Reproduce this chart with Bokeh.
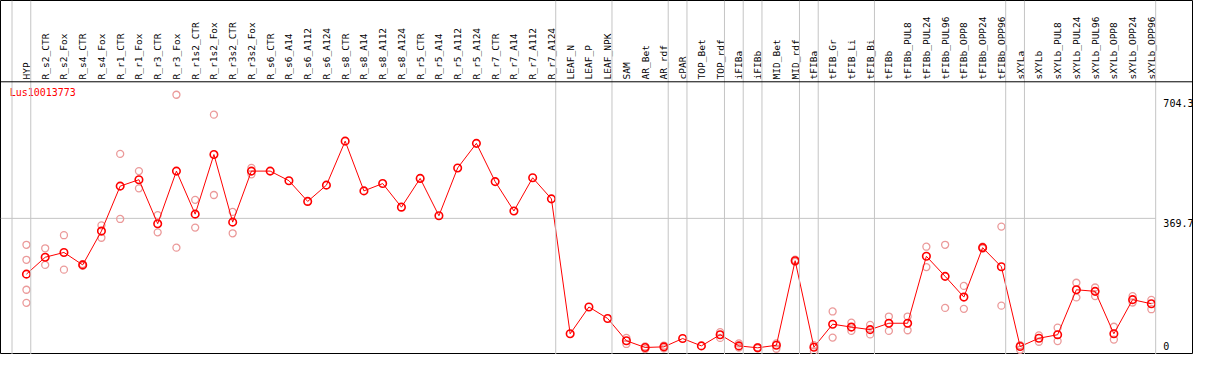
import math
from bokeh.plotting import figure
from bokeh.models import Range1d, Span, ColumnDataSource
from bokeh.core.properties import value
from bokeh.embed import file_html
from bokeh.resources import INLINE

gene_id = "Lus10013773"

categories = [
    "HYP", "R_s2_CTR", "R_s2_Fox", "R_s4_CTR", "R_s4_Fox", "R_r1_CTR", "R_r1_Fox",
    "R_r3_CTR", "R_r3_Fox", "R_r1s2_CTR", "R_r1s2_Fox", "R_r3s2_CTR", "R_r3s2_Fox",
    "R_s6_CTR", "R_s6_A14", "R_s6_A112", "R_s6_A124", "R_s8_CTR", "R_s8_A14",
    "R_s8_A112", "R_s8_A124", "R_r5_CTR", "R_r5_A14", "R_r5_A112", "R_r5_A124",
    "R_r7_CTR", "R_r7_A14", "R_r7_A112", "R_r7_A124", "LEAF_N", "LEAF_P", "LEAF_NPK",
    "SAM", "AR_Bet", "AR_rdf", "cPAR", "TOP_Bet", "TOP_rdf", "iFIBa", "iFIBb",
    "MID_Bet", "MID_rdf", "tFIBa", "tFIB_Gr", "tFIB_Li", "tFIB_Bi", "tFIBb",
    "tFIBb_PUL8", "tFIBb_PUL24", "tFIBb_PUL96", "tFIBb_OPP8", "tFIBb_OPP24",
    "tFIBb_OPP96", "sXYLa", "sXYLb", "sXYLb_PUL8", "sXYLb_PUL24", "sXYLb_PUL96",
    "sXYLb_OPP8", "sXYLb_OPP24", "sXYLb_OPP96",
]

mean_values = [
    218.8, 264.5, 277.5, 243.8, 335.3, 457.0, 474.3, 355.2, 497.6, 381.1, 542.5,
    359.5, 497.6, 497.6, 471.7, 415.6, 459.6, 578.7, 444.1, 463.9, 400.0, 477.8,
    376.8, 506.2, 572.7, 469.2, 389.7, 479.5, 422.5, 57.4, 129.9, 98.8, 38.4,
    20.3, 22.0, 44.5, 24.6, 54.8, 24.6, 19.4, 26.3, 255.1, 21.1, 83.3, 75.5,
    68.6, 85.9, 85.9, 267.1, 212.8, 156.7, 290.4, 238.7, 22.9, 45.3, 54.8,
    176.5, 172.2, 57.4, 149.8, 138.5,
]

replicate_values = [
    [298.2, 257.6, 176.5, 141.1], [288.7, 243.8], [324.1, 230.9], [246.0, 241.5],
    [350.9, 317.2], [544.2, 368.1], [497.6, 451.0], [378.5, 331.9], [704.3, 290.4],
    [419.9, 344.8], [650.4, 432.9], [387.1, 329.3], [506.2, 489.0],
    [], [], [], [], [], [], [], [], [], [], [], [], [], [], [], [], [], [], [],
    [46.2, 29.8], [22.9, 16.0], [25.5, 17.7], [], [], [61.7, 46.2], [31.5, 20.3],
    [21.0, 18.0], [31.5, 16.8], [258.0, 252.0], [26.3, 9.9], [117.8, 47.1],
    [87.6, 65.2], [81.6, 55.7], [104.0, 65.2], [104.0, 66.9], [293.0, 237.8],
    [298.2, 127.3], [186.9, 124.8], [293.0, 288.0], [347.4, 133.4], [26.3, 14.2],
    [53.1, 35.8], [73.8, 37.5], [195.5, 155.8], [182.6, 159.3], [76.4, 41.8],
    [159.3, 142.0], [148.9, 123.9],
]

# last index of each sample group (separators drawn after them)
group_last_index = [-1, 0, 28, 31, 34, 35, 37, 38, 39, 41, 42, 45, 52, 53, 60]

y_tick_values = [704.3, 369.7, 0]
y_tick_labels = ["704.3", "369.7", "0"]
grid_value = 369.7

# ---------------- layout / style ----------------
W, H = 1193, 354
X0, X1 = -1.384, 62.247
Y0, Y1 = 1.3, 959.3
HEADER_Y = 739.3
SEP_OFFSET = 0.23
MONO = "DejaVu Sans Mono"
RED = "#ff0000"
PINK = "#eb9a9a"
GRAY = "#c4c4c4"

p = figure(width=W, height=H, output_backend="svg", toolbar_location=None,
           x_range=Range1d(X0, X1), y_range=Range1d(Y0, Y1),
           min_border=0, min_border_left=0, min_border_right=0,
           min_border_top=0, min_border_bottom=0)
p.axis.visible = False
p.grid.visible = False
p.outline_line_color = "black"
p.outline_line_width = 1
p.background_fill_color = "white"
p.border_fill_color = "white"

# group separators (vertical gray lines, full height)
for g in group_last_index:
    p.add_layout(Span(location=g + SEP_OFFSET, dimension="height",
                      line_color=GRAY, line_width=1))

# horizontal reference line at grid value (stops at last separator)
p.segment(x0=[X0], y0=[grid_value], x1=[group_last_index[-1] + SEP_OFFSET],
          y1=[grid_value], line_color=GRAY, line_width=1)

# header separator
p.add_layout(Span(location=HEADER_Y, dimension="width", line_color="black",
                  line_width=1))

idx = list(range(len(categories)))

# category labels (vertical)
p.text(x=idx, y=[HEADER_Y + 6.5] * len(idx), text=categories, angle=math.pi / 2,
       text_align="left", text_baseline="middle", text_font=value(MONO),
       text_font_size="9.5px", text_color="black")

# replicates
rx, ry = [], []
for i, reps in enumerate(replicate_values):
    for v in reps:
        rx.append(i)
        ry.append(v)
p.scatter(rx, ry, marker="circle", size=7, fill_color=None, line_color=PINK,
          line_width=1.3)

# mean line and markers
p.line(idx, mean_values, line_color=RED, line_width=1)
p.scatter(idx, mean_values, marker="circle", size=7.5, fill_color=None,
          line_color=RED, line_width=1.6)

# gene id
p.text(x=[-0.895], y=[709], text=[gene_id], text_align="left",
       text_baseline="middle", text_font=value(MONO), text_font_size="10px",
       text_color=RED)

# y value labels on the right
label_offsets = [8.6, 4.4, -8.6]
src = ColumnDataSource(dict(x=[60.64] * 3, y=y_tick_values, t=y_tick_labels,
                            yo=label_offsets))
p.text(x="x", y="y", text="t", y_offset="yo", source=src, text_align="left",
       text_baseline="middle", text_font=value(MONO), text_font_size="10px",
       text_color="black")

open("out.html", "w").write(file_html(p, INLINE))
